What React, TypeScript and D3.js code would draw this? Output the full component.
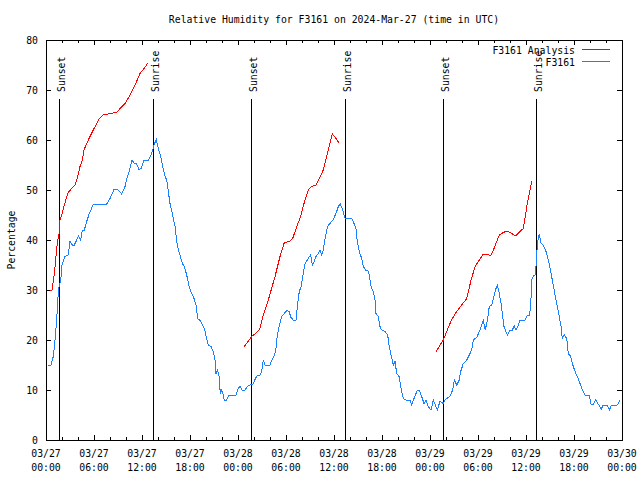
import React from "react";
import * as d3 from "d3";

// ---- data (hours since 2024-03-27 00:00 UTC) ----
const xTickHours = [0, 6, 12, 18, 24, 30, 36, 42, 48, 54, 60, 66, 72];
const xTickDates = ["03/27", "03/27", "03/27", "03/27", "03/28", "03/28", "03/28", "03/28", "03/29", "03/29", "03/29", "03/29", "03/30"];
const xTickTimes = ["00:00", "06:00", "12:00", "18:00", "00:00", "06:00", "12:00", "18:00", "00:00", "06:00", "12:00", "18:00", "00:00"];
const yTicks = [0, 10, 20, 30, 40, 50, 60, 70, 80];

const sunHours = [1.67, 13.42, 25.67, 37.42, 49.67, 61.29];
const sunLabels = ["Sunset", "Sunrise", "Sunset", "Sunrise", "Sunset", "Sunrise"];

const obsHours = [
  0.29, 0.63, 0.91, 1.13, 1.34, 1.46, 1.63, 1.84, 2.0, 2.16, 2.38, 2.79, 3.0, 3.29, 3.54, 3.84, 4.04, 4.34, 4.54, 4.79,
  5.09, 5.41, 5.63, 5.91, 6.66, 6.88, 7.59, 8.0, 8.5, 9.04, 9.46, 9.88, 10.09, 10.41, 10.75, 11.04, 11.34, 11.63, 11.88, 12.25,
  12.84, 13.21, 13.5, 13.79, 14.04, 14.34, 14.59, 14.88, 15.09, 15.29, 15.5, 15.79, 16.13, 16.34, 16.54, 16.75, 17.04, 17.29, 17.59, 17.88,
  18.21, 18.5, 18.75, 18.96, 19.25, 19.59, 19.79, 20.09, 20.29, 20.63, 20.91, 21.13, 21.25, 21.46, 21.63, 21.79, 21.96, 22.16, 22.29, 22.59,
  22.88, 23.75, 24.04, 24.25, 24.54, 24.88, 25.21, 25.5, 25.91, 26.13, 26.34, 26.75, 26.96, 27.16, 27.38, 28.0, 28.21, 28.54, 28.71, 28.84,
  29.04, 29.25, 29.46, 29.79, 30.09, 30.38, 30.63, 30.91, 31.25, 31.46, 31.66, 31.88, 32.16, 32.38, 32.66, 32.91, 33.09, 33.29, 33.54, 33.75,
  34.04, 34.25, 34.46, 34.66, 34.88, 35.09, 35.29, 35.5, 35.91, 36.34, 36.54, 36.79, 37.09, 37.38, 38.21, 38.5, 38.75, 38.91, 39.16, 39.46,
  39.66, 39.96, 40.21, 40.41, 40.63, 40.91, 41.13, 41.25, 41.54, 41.75, 41.96, 42.38, 42.71, 42.91, 43.13, 43.41, 43.63, 43.84, 44.13, 44.38,
  44.66, 45.0, 45.5, 45.71, 46.0, 46.41, 46.66, 46.96, 47.25, 47.5, 47.79, 48.13, 48.41, 48.66, 48.91, 49.25, 49.66, 49.88, 50.5, 50.84,
  51.04, 51.34, 51.63, 51.84, 52.16, 52.59, 52.91, 53.21, 53.41, 53.84, 54.25, 54.66, 54.91, 55.21, 55.41, 55.71, 56.0, 56.25, 56.41, 56.66,
  56.88, 57.09, 57.25, 57.66, 58.0, 58.29, 58.54, 58.75, 59.04, 59.25, 59.88, 60.16, 60.41, 60.59, 60.71, 60.91, 61.13, 61.25, 61.34, 61.46,
  61.66, 61.88, 62.16, 62.5, 62.79, 63.13, 63.41, 63.63, 63.91, 64.16, 64.38, 64.54, 64.79, 65.09, 65.29, 65.59, 65.79, 66.13, 66.41, 66.75,
  67.04, 67.38, 67.88, 68.13, 68.41, 68.71, 68.96, 69.16, 69.38, 69.66, 70.16, 70.41, 70.71, 71.34, 71.54, 71.75,
];
const obsValues = [
  15, 15, 16.7, 20, 24, 28, 30.7, 32, 35, 35.7, 36.7, 37, 39.7, 39, 39, 40, 40.8, 40, 42, 42,
  43.7, 45.3, 46, 47.2, 47.2, 47, 47.2, 48.3, 50.1, 50, 49.2, 50.7, 52.3, 53.7, 56, 55.3, 55.2, 54.1, 54.3, 56,
  56, 57.3, 59, 60.1, 58.3, 56.7, 54.7, 52.7, 52, 49.7, 47.3, 45.3, 42.7, 39.7, 38, 37, 35.3, 34.7, 33, 30.7,
  29.3, 28.3, 27, 24.3, 23.9, 23, 22.3, 20.3, 19, 18.7, 17.7, 16, 13.3, 14, 12.7, 9.3, 10, 9, 8, 8,
  9, 9, 10.3, 10.8, 9.9, 10, 10.8, 11, 11.2, 12.1, 12.8, 13, 13.7, 15.9, 15, 15, 15.9, 17, 17.7, 20,
  22, 23.3, 24.7, 25.3, 25.9, 25.7, 24.5, 24, 24, 27.3, 29.7, 30.7, 33.3, 35.3, 36, 36.7, 37, 35, 35.7, 36.7,
  37.3, 38, 37, 38, 40.3, 42, 43, 43.3, 44.1, 45.7, 46.7, 47.2, 46, 44.3, 44.3, 43.3, 42.3, 39.7, 37.7, 36.3,
  34.7, 34, 34, 33, 30.7, 29.7, 28, 25.3, 24.7, 22.7, 22, 21.7, 21, 18.7, 17, 15, 15.7, 13.3, 12.7, 10.3,
  8.3, 8, 8, 7, 8.3, 9.9, 9.9, 8.7, 7.3, 8, 6.7, 6, 8, 7, 6, 7.7, 7.3, 8, 8.8, 10,
  12, 11, 11.9, 13.7, 15.3, 16, 17, 18, 20, 20.5, 22, 24, 22, 24.3, 26.7, 27, 28.7, 30.3, 31, 29.3,
  27.3, 24.7, 22.7, 21, 22, 22, 22.8, 22, 23, 23.9, 24, 25, 25, 26.7, 32, 32.8, 33, 34.7, 37.3, 39.7,
  41.2, 39.3, 39, 37.7, 36, 33.3, 31, 29, 26.7, 24.7, 22.7, 20.3, 21, 20.3, 17.3, 16.7, 15.3, 13.7, 12.7, 11.3,
  10, 9, 9, 7.2, 7.2, 8, 7.3, 7, 6.1, 7, 7, 6, 7, 7, 7.3, 8,
];

// Analysis series: three daily runs, null marks a gap
const anaHours = [
  0.5, 0.75, 1.0, 1.21, 1.41, 1.63, 1.75, 1.96, 2.25, 2.59, 2.79, 3.21, 3.63, 3.91, 4.25, 4.54, 4.75, 5.09, 5.5, 5.91,
  6.66, 7.16, 8.0, 8.84, 9.25, 9.88, 10.5, 11.13, 11.75, 12.25, 12.79,
  null,
  24.69, 25.71, 26.34, 26.75, 27.16, 27.79, 28.63, 29.25, 29.79, 30.41, 30.84, 31.34, 31.84, 32.25, 32.79, 33.21, 33.75, 34.16, 34.66, 35.16,
  35.79, 36.25, 36.66,
  null,
  48.69, 49.66, 50.09, 50.71, 51.34, 51.96, 52.59, 53.09, 53.63, 54.04, 54.66, 55.09, 55.59, 56.0, 56.66, 57.16, 57.66, 58.21, 58.71, 59.13,
  59.66, 59.91, 60.16, 60.41, 60.71,
];
const anaValues = [
  30, 30, 32.7, 36, 39.3, 41.3, 44, 45, 46.7, 48.7, 49.5, 50.3, 51, 52.3, 54.7, 56, 58, 59.3, 60.7, 62,
  64.3, 65, 65.3, 65.5, 66.3, 67.3, 69, 71, 73.3, 74.3, 75.5,
  null,
  18.5, 20.7, 21.5, 22.3, 25, 28, 32.7, 36.7, 39.5, 39.7, 40.3, 42.7, 44.7, 47.3, 50, 50.7, 51, 52.3, 54, 57.3,
  61.2, 60.3, 59.3,
  null,
  17.5, 20, 21.7, 24.1, 25.7, 27, 28.3, 31.7, 34.7, 35.7, 37.2, 37.2, 36.9, 38.3, 41, 41.5, 41.8, 41.3, 40.8, 41.5,
  42.3, 44.7, 47.3, 49.3, 51.7,
];

const seriesNames = ["F3161 Analysis", "F3161"];
const seriesColors = ["#ff0000", "#1a80ff"];

const W = 640;
const H = 480;
const L = 46, R = 622, T = 40, B = 440;
const FONT = "'DejaVu Sans Mono', 'Liberation Mono', monospace";

export default function App() {
  const x = d3.scaleLinear().domain([0, 72]).range([L, R]);
  const y = d3.scaleLinear().domain([0, 80]).range([B, T]);

  const obs = obsHours.map((h, i) => [h, obsValues[i]] as [number, number]);
  const ana = anaHours.map((h, i) => [h, anaValues[i]] as [number | null, number | null]);

  const lineGen = d3
    .line<[number | null, number | null]>()
    .defined((d) => d[0] != null && d[1] != null)
    .x((d) => x(d[0] as number))
    .y((d) => y(d[1] as number));

  const minorTicks = d3.range(0, 73, 2);

  return (
    <svg
      width={W}
      height={H}
      style={{ position: "absolute", left: 0, top: 0, background: "#fff" }}
      fontFamily={FONT}
      fontSize={9.8}
    >
      <rect x={0} y={0} width={W} height={H} fill="#fff" />
      {/* title */}
      <text x={(L + R) / 2} y={23} textAnchor="middle" fill="#000">
        Relative Humidity for F3161 on 2024-Mar-27 (time in UTC)
      </text>
      {/* y label */}
      <text transform={`translate(15,240) rotate(-90)`} textAnchor="middle" fill="#000">
        Percentage
      </text>

      {/* y ticks */}
      {yTicks.map((v) => (
        <g key={"y" + v} shapeRendering="crispEdges">
          <line x1={L} x2={L + 5} y1={Math.round(y(v)) + 0.5} y2={Math.round(y(v)) + 0.5} stroke="#000" />
          <line x1={R - 5} x2={R} y1={Math.round(y(v)) + 0.5} y2={Math.round(y(v)) + 0.5} stroke="#000" />
          <text x={38} y={y(v) + 3.5} textAnchor="end" fill="#000" shapeRendering="auto">
            {v}
          </text>
        </g>
      ))}

      {/* x minor ticks */}
      {minorTicks.map((h) => {
        const major = h % 6 === 0;
        const len = major ? 5 : 3;
        const xx = Math.round(x(h)) + 0.5;
        return (
          <g key={"xt" + h} shapeRendering="crispEdges">
            <line x1={xx} x2={xx} y1={B} y2={B - len} stroke="#000" />
            <line x1={xx} x2={xx} y1={T} y2={T + len} stroke="#000" />
          </g>
        );
      })}
      {/* x labels */}
      {xTickHours.map((h, i) => (
        <g key={"xl" + h}>
          <text x={x(h)} y={457} textAnchor="middle" fill="#000">
            {xTickDates[i]}
          </text>
          <text x={x(h)} y={471} textAnchor="middle" fill="#000">
            {xTickTimes[i]}
          </text>
        </g>
      ))}

      {/* sunrise / sunset markers */}
      {sunHours.map((h, i) => {
        const xx = Math.round(x(h)) + 0.5;
        return (
          <g key={"sun" + i}>
            <line x1={xx} x2={xx} y1={B} y2={99} stroke="#000" shapeRendering="crispEdges" />
            <text transform={`translate(${xx + 5.5},92) rotate(-90)`} textAnchor="start" fill="#000">
              {sunLabels[i]}
            </text>
          </g>
        );
      })}

      {/* data lines */}
      <path d={lineGen(ana) || ""} fill="none" stroke={seriesColors[0]} strokeWidth={1} shapeRendering="crispEdges" />
      <path d={lineGen(obs as any) || ""} fill="none" stroke={seriesColors[1]} strokeWidth={1} shapeRendering="crispEdges" />

      {/* legend */}
      {seriesNames.map((name, i) => (
        <g key={"lg" + i}>
          <text x={575} y={54 + i * 12} textAnchor="end" fill="#000">
            {name}
          </text>
          <line
            x1={582}
            x2={610}
            y1={49.5 + i * 12}
            y2={49.5 + i * 12}
            stroke={seriesColors[i]}
            shapeRendering="crispEdges"
          />
        </g>
      ))}

      {/* border */}
      <rect x={L + 0.5} y={T + 0.5} width={R - L} height={B - T} fill="none" stroke="#000" shapeRendering="crispEdges" />
    </svg>
  );
}
